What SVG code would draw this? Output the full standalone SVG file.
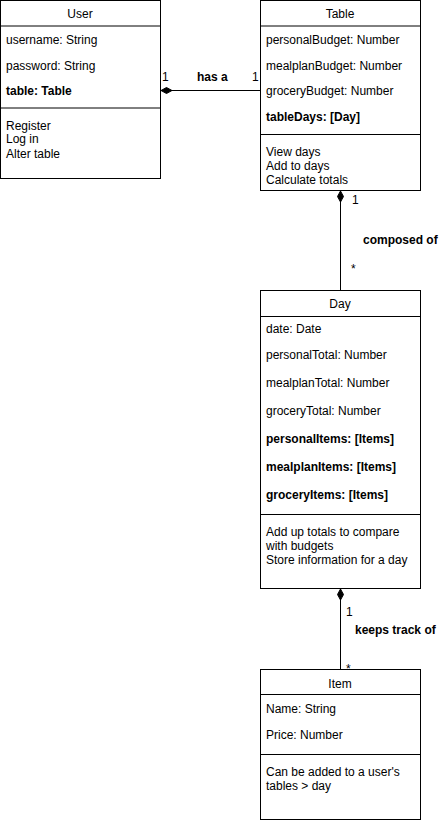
<svg xmlns="http://www.w3.org/2000/svg" width="439" height="821" viewBox="0 0 439 821">
<style>
.box{fill:#fff;stroke:#000;stroke-width:1}
.ln{stroke:#000;stroke-width:1;fill:none}
text{font-family:"Liberation Sans",Arial,sans-serif;font-size:12px;fill:#000}
.c{text-anchor:middle}
.b{font-weight:bold}
</style>
<defs>
<marker id="dia" markerWidth="18" markerHeight="10" refX="12" refY="5" orient="auto" markerUnits="userSpaceOnUse">
<path d="M1,5 L6.5,2 L12,5 L6.5,8 Z" fill="#000" stroke="#000"/>
</marker>
</defs>
<rect width="439" height="821" fill="#fff"/>
<g id="user">
<rect class="box" x="0.5" y="0.5" width="160" height="178"/>
<line class="ln" x1="0.5" y1="26" x2="160.5" y2="26"/>
<line class="ln" x1="0.5" y1="108" x2="160.5" y2="108"/>
<text x="80" y="18" class="c">User</text>
<text x="6" y="44">username: String</text>
<text x="6" y="70">password: String</text>
<text x="6" y="95" class="b">table: Table</text>
<text x="6" y="130">Register</text>
<text x="6" y="143">Log in</text>
<text x="6" y="158">Alter table</text>
</g>
<g id="table">
<rect class="box" x="260.5" y="0.5" width="160" height="190"/>
<line class="ln" x1="260.5" y1="26" x2="420.5" y2="26"/>
<line class="ln" x1="260.5" y1="134.5" x2="420.5" y2="134.5"/>
<text x="340" y="18" class="c">Table</text>
<text x="266" y="44">personalBudget: Number</text>
<text x="266" y="70">mealplanBudget: Number</text>
<text x="266" y="95">groceryBudget: Number</text>
<text x="266" y="121" class="b">tableDays: [Day]</text>
<text x="266" y="156">View days</text>
<text x="266" y="170">Add to days</text>
<text x="266" y="184">Calculate totals</text>
</g>
<g id="day">
<rect class="box" x="260.5" y="290.5" width="160" height="298"/>
<line class="ln" x1="260.5" y1="316.5" x2="420.5" y2="316.5"/>
<line class="ln" x1="260.5" y1="514.5" x2="420.5" y2="514.5"/>
<text x="340" y="308" class="c">Day</text>
<text x="266" y="333">date: Date</text>
<text x="266" y="359">personalTotal: Number</text>
<text x="266" y="387">mealplanTotal: Number</text>
<text x="266" y="415">groceryTotal: Number</text>
<text x="266" y="443" class="b">personalItems: [Items]</text>
<text x="266" y="471" class="b">mealplanItems: [Items]</text>
<text x="266" y="499" class="b">groceryItems: [Items]</text>
<text x="266" y="536">Add up totals to compare</text>
<text x="266" y="550">with budgets</text>
<text x="266" y="564">Store information for a day</text>
</g>
<g id="item">
<rect class="box" x="260.5" y="669.5" width="160" height="150"/>
<line class="ln" x1="260.5" y1="694.5" x2="420.5" y2="694.5"/>
<line class="ln" x1="260.5" y1="754.5" x2="420.5" y2="754.5"/>
<text x="340" y="688" class="c">Item</text>
<text x="266" y="713">Name: String</text>
<text x="266" y="739">Price: Number</text>
<text x="266" y="776">Can be added to a user's</text>
<text x="266" y="790">tables &gt; day</text>
</g>
<g id="connectors">
<path class="ln" d="M260,90.5 L161,90.5" marker-end="url(#dia)"/>
<text x="162" y="81">1</text>
<text x="197" y="81" class="b">has a</text>
<text x="252" y="81">1</text>
<path class="ln" d="M340.5,290 L340.5,191" marker-end="url(#dia)"/>
<text x="352" y="204">1</text>
<text x="363" y="244" class="b">composed of</text>
<text x="351" y="273">*</text>
<path class="ln" d="M340.5,669 L340.5,589" marker-end="url(#dia)"/>
<text x="346" y="616">1</text>
<text x="355" y="634" class="b">keeps track of</text>
<text x="346" y="673">*</text>
</g>
</svg>
